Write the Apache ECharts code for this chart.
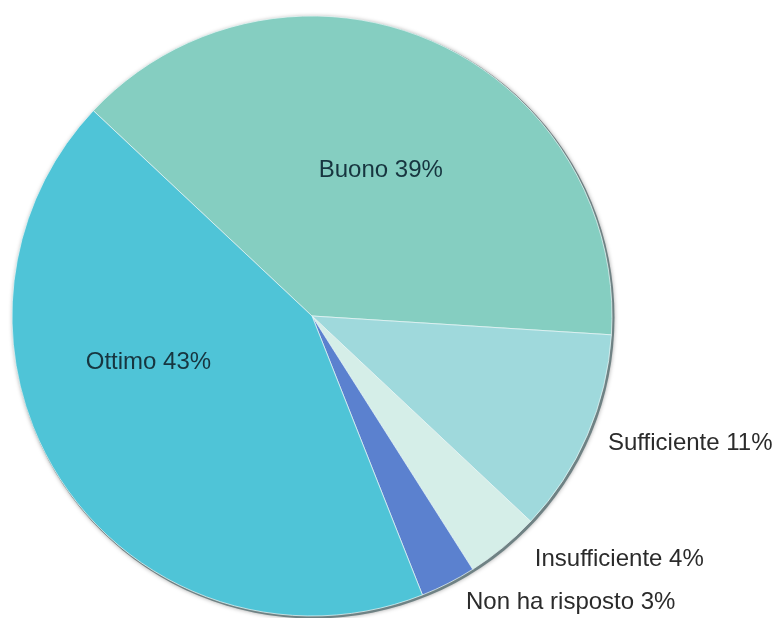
<!DOCTYPE html>
<html>
<head>
<meta charset="utf-8">
<script src="https://cdn.jsdelivr.net/npm/echarts@6/dist/echarts.min.js"></script>
<style>
  html, body { margin: 0; padding: 0; background: #ffffff; }
  #chart { width: 781px; height: 618px; }
</style>
</head>
<body>
<div id="chart"></div>
<script>
// Survey answers, clockwise from the upper-left boundary
const categories = ['Buono', 'Sufficiente', 'Insufficiente', 'Non ha risposto', 'Ottimo'];
const percentages = [39, 11, 4, 3, 43];
const sliceColors = ['#85cec1', '#9fd9dc', '#d5eee8', '#5b81cf', '#4fc4d7'];

// Label nudges (dx, dy) from the default label anchor, per category
const labelNudge = {
  'Buono': [8, -5],
  'Ottimo': [-37, -40],
  'Sufficiente': [8, 7],
  'Insufficiente': [20, 9],
  'Non ha risposto': [7, 16]
};
const insideLabels = ['Buono', 'Ottimo'];

const chart = echarts.init(document.getElementById('chart'), null, { renderer: 'canvas' });

const pieData = categories.map((name, i) => ({
  name: name,
  value: percentages[i],
  itemStyle: { color: sliceColors[i] },
  label: insideLabels.includes(name)
    ? { position: 'inner', color: '#17353f' }
    : { position: 'outside', color: '#2b2b2b' }
}));

const center = [312, 316];
const radius = 300;

chart.setOption({
  animation: false,
  backgroundColor: '#ffffff',
  series: [
    {
      // soft rim shading under the pie
      type: 'pie',
      silent: true,
      z: 1,
      center: [center[0] + 1.5, center[1] + 1.5],
      radius: radius + 1,
      label: { show: false },
      labelLine: { show: false },
      itemStyle: {
        color: '#6f8284',
        shadowColor: 'rgba(0,0,0,0.35)',
        shadowBlur: 4
      },
      data: [{ value: 1, name: '' }]
    },
    {
      type: 'pie',
      z: 2,
      center: center,
      radius: radius,
      startAngle: 136.8,
      clockwise: true,
      avoidLabelOverlap: false,
      itemStyle: {
        borderColor: 'rgba(235,250,250,0.7)',
        borderWidth: 1
      },
      label: {
        show: true,
        formatter: p => p.name + ' ' + p.value + '%',
        fontFamily: '"Liberation Sans", Arial, Helvetica, sans-serif',
        fontSize: 24
      },
      labelLine: { show: false, length: 4, length2: 4 },
      labelLayout: params => {
        const nudge = labelNudge[categories[params.dataIndex]] || [0, 0];
        return { dx: nudge[0], dy: nudge[1] };
      },
      data: pieData
    }
  ]
});
</script>
</body>
</html>
